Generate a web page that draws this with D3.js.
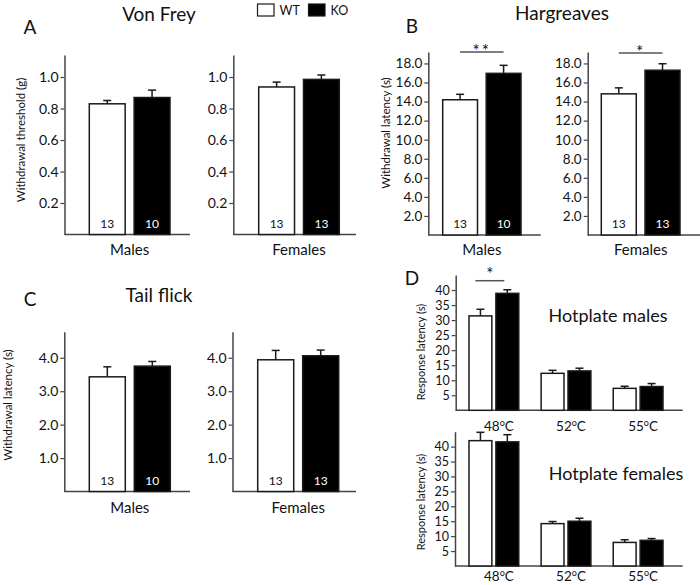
<!DOCTYPE html>
<html><head><meta charset="utf-8">
<script src="https://cdn.jsdelivr.net/npm/d3@7"></script>
<style>
body{margin:0;background:#fff}
text{font-family:Lato,"Open Sans",sans-serif;fill:#111}
</style>
</head><body>
<svg id="chart" width="700" height="585"></svg>
<script>
// ---- data ----
const sexes = ["Males", "Females"];
const genotypes = ["WT", "KO"];
const nWT = [13, 13];
const nKO = [10, 13];

const vonFreyWT = [0.83, 0.937];
const vonFreyWTErr = [0.021, 0.031];
const vonFreyKO = [0.87, 0.985];
const vonFreyKOErr = [0.047, 0.028];
const vonFreyTicks = [0.2, 0.4, 0.6, 0.8, 1.0];

const hargWT = [14.19, 14.81];
const hargWTErr = [0.57, 0.63];
const hargKO = [16.96, 17.29];
const hargKOErr = [0.84, 0.68];
const hargTicks = [2, 4, 6, 8, 10, 12, 14, 16, 18];
const hargSig = ["**", "*"];
const hargSigY = [19.2, 19.1];

const tailWT = [3.43, 3.94];
const tailWTErr = [0.30, 0.28];
const tailKO = [3.75, 4.06];
const tailKOErr = [0.14, 0.17];
const tailTicks = [1, 2, 3, 4];

const temps = ["48", "52", "55"];
const hotTicks = [5, 10, 15, 20, 25, 30, 35, 40];
const hotMalesWT = [31.4, 12.3, 7.3];
const hotMalesWTErr = [2.2, 1.0, 0.7];
const hotMalesKO = [38.9, 13.1, 7.9];
const hotMalesKOErr = [1.2, 0.9, 1.0];
const hotMalesSig = ["*", "", ""];
const hotMalesSigY = [43.1, 0, 0];
const hotFemWT = [42.0, 14.2, 7.9];
const hotFemWTErr = [2.8, 0.7, 0.9];
const hotFemKO = [41.6, 15.0, 8.6];
const hotFemKOErr = [2.4, 1.0, 0.6];

// ---- drawing ----
const svg = d3.select("#chart");
svg.append("rect").attr("width", 700).attr("height", 585).attr("fill", "#fff");
const INK = "#1a1a1a", AX = "#444";

function yAxis(g, y, ticks, fmt, fs) {
  const a = g.append("g")
    .call(d3.axisLeft(y).tickValues(ticks).tickFormat(fmt).tickSizeInner(4).tickSizeOuter(0).tickPadding(2));
  a.select(".domain").attr("stroke", AX).attr("stroke-width", 1.5);
  a.selectAll(".tick line").attr("stroke", AX).attr("stroke-width", 1.2);
  a.selectAll(".tick text").attr("font-family", "Lato").attr("font-size", fs).attr("fill", "#111");
  return a;
}

function errBar(g, cx, y, v, e) {
  g.append("line").attr("x1", cx).attr("x2", cx).attr("y1", y(v)).attr("y2", y(v + e))
    .attr("stroke", INK).attr("stroke-width", 1.5);
  g.append("line").attr("x1", cx - 4).attr("x2", cx + 4).attr("y1", y(v + e)).attr("y2", y(v + e))
    .attr("stroke", INK).attr("stroke-width", 1.5);
}

// Sex panel (two bars)
function sexPanel(o) {
  const g = svg.append("g").attr("transform", `translate(${o.ax},0)`);
  const y = d3.scaleLinear().domain([0, o.yMax]).range([o.base, o.top]);
  const x = d3.scaleBand().domain(genotypes).range([o.b0 - o.ax, o.b1 - o.ax]).paddingInner(0.2).paddingOuter(0);
  g.append("line").attr("x1", 0).attr("x2", o.xEnd - o.ax).attr("y1", y(0)).attr("y2", y(0))
    .attr("stroke", AX).attr("stroke-width", 1.5);
  const vals = [o.wt, o.ko], errs = [o.wtErr, o.koErr], ns = [o.nwt, o.nko];
  genotypes.forEach((k, j) => {
    errBar(g, x(k) + x.bandwidth() / 2, y, vals[j], errs[j]);
    g.append("rect").attr("x", x(k)).attr("y", y(vals[j])).attr("width", x.bandwidth())
      .attr("height", y(0) - y(vals[j]))
      .attr("fill", k === "WT" ? "#fff" : "#000").attr("stroke", INK).attr("stroke-width", 1.5);
    g.append("text").attr("x", x(k) + x.bandwidth() / 2).attr("y", y(0) - 7)
      .attr("text-anchor", "middle").attr("font-size", 12)
      .style("fill", k === "WT" ? "#111" : "#fff").text(ns[j]);
  });
  yAxis(g, y, o.ticks, o.fmt, o.fs);
  g.append("text").attr("x", (o.b0 + o.b1) / 2 - o.ax).attr("y", o.labY)
    .attr("text-anchor", "middle").attr("font-size", 15).text(o.label);
  if (o.sig) {
    const x1 = x("WT") + x.bandwidth() / 2, x2 = x("KO") + x.bandwidth() / 2;
    g.append("line").attr("x1", x1).attr("x2", x2).attr("y1", y(o.sigY)).attr("y2", y(o.sigY))
      .attr("stroke", "#555").attr("stroke-width", 1.5);
    g.append("text").attr("x", (x1 + x2) / 2).attr("y", y(o.sigY) + 5)
      .attr("text-anchor", "middle").attr("font-size", 17).attr("letter-spacing", 2).text(o.sig);
  }
}

function tempLabel(g, x, yPos, t) {
  const tx = g.append("text").attr("x", x).attr("y", yPos).attr("text-anchor", "middle").attr("font-size", 13.5);
  tx.append("tspan").text(t);
  tx.append("tspan").attr("font-size", 9).attr("dy", -5).text("o");
  tx.append("tspan").attr("dy", 5).text("C");
}

function hotPanel(o) {
  const g = svg.append("g").attr("transform", `translate(${o.ax},0)`);
  const y = d3.scaleLinear().domain([0, 45]).range([o.base, o.top]);
  const x0 = d3.scaleBand().domain(temps).range([o.g0 - o.ax, o.g1 - o.ax]).paddingInner(0.31).paddingOuter(0);
  const x1 = d3.scaleBand().domain(genotypes).range([0, x0.bandwidth()]).paddingInner(0.15).paddingOuter(0);
  g.append("line").attr("x1", 0).attr("x2", o.xEnd - o.ax).attr("y1", y(0)).attr("y2", y(0))
    .attr("stroke", AX).attr("stroke-width", 1.5);
  temps.forEach((t, i) => {
    const vals = [o.wt[i], o.ko[i]], errs = [o.wtErr[i], o.koErr[i]];
    genotypes.forEach((k, j) => {
      const bx = x0(t) + x1(k);
      errBar(g, bx + x1.bandwidth() / 2, y, vals[j], errs[j]);
      g.append("rect").attr("x", bx).attr("y", y(vals[j])).attr("width", x1.bandwidth())
        .attr("height", y(0) - y(vals[j]))
        .attr("fill", k === "WT" ? "#fff" : "#000").attr("stroke", INK).attr("stroke-width", 1.5);
    });
    tempLabel(g, x0(t) + x0.bandwidth() / 2 + 5, o.labY, t);
    if (o.sig && o.sig[i]) {
      const a = x0(t) + x1("WT") + x1.bandwidth() / 2, b = x0(t) + x1("KO") + x1.bandwidth() / 2;
      g.append("line").attr("x1", a - 5).attr("x2", b - 3).attr("y1", y(o.sigY[i])).attr("y2", y(o.sigY[i]))
        .attr("stroke", "#555").attr("stroke-width", 1.5);
      g.append("text").attr("x", (a + b) / 2 - 4).attr("y", y(o.sigY[i]) - 1)
        .attr("text-anchor", "middle").attr("font-size", 17).text(o.sig[i]);
    }
  });
  yAxis(g, y, hotTicks, d3.format("d"), 12.5);
  svg.append("text").attr("x", o.titleX).attr("y", o.titleY).attr("text-anchor", "middle")
    .attr("font-size", 18).attr("dominant-baseline", "central").text(o.title);
}

function vLabel(x, y, t, fs) {
  svg.append("text").attr("transform", `translate(${x},${y}) rotate(-90)`)
    .attr("text-anchor", "middle").attr("dominant-baseline", "central").attr("font-size", fs).text(t);
}
function txt(x, y, t, fs) {
  svg.append("text").attr("x", x).attr("y", y).attr("text-anchor", "middle")
    .attr("dominant-baseline", "central").attr("font-size", fs).text(t);
}

const f1 = d3.format(".1f");

// Panel A
[0, 1].forEach(i => sexPanel({
  ax: [64.5, 233.3][i], xEnd: [190, 356][i], b0: [89.3, 258.7][i], b1: [170, 339.3][i],
  base: 234.5, top: 55, yMax: 1.14, ticks: vonFreyTicks, fmt: f1, fs: 14,
  wt: vonFreyWT[i], wtErr: vonFreyWTErr[i], ko: vonFreyKO[i], koErr: vonFreyKOErr[i],
  nwt: nWT[i], nko: nKO[i], label: sexes[i], labY: 255
}));
// Panel B
[0, 1].forEach(i => sexPanel({
  ax: [428.3, 587.7][i], xEnd: [540.7, 700][i], b0: [442.7, 601.3][i], b1: [521, 680][i],
  base: 235, top: 52, yMax: 19.2, ticks: hargTicks, fmt: f1, fs: 13.5,
  wt: hargWT[i], wtErr: hargWTErr[i], ko: hargKO[i], koErr: hargKOErr[i],
  nwt: nWT[i], nko: nKO[i], label: sexes[i], labY: 255,
  sig: hargSig[i], sigY: hargSigY[i]
}));
// Panel C
[0, 1].forEach(i => sexPanel({
  ax: [64.3, 232.5][i], xEnd: [190, 356][i], b0: [89.3, 257.7][i], b1: [170.3, 338.7][i],
  base: 491.5, top: 331.7, yMax: 4.78, ticks: tailTicks, fmt: f1, fs: 14,
  wt: tailWT[i], wtErr: tailWTErr[i], ko: tailKO[i], koErr: tailKOErr[i],
  nwt: nWT[i], nko: nKO[i], label: sexes[i], labY: 513
}));
// Panel D
hotPanel({ ax: 455.7, xEnd: 682.7, g0: 469, g1: 663, base: 410.3, top: 275, labY: 431,
  wt: hotMalesWT, wtErr: hotMalesWTErr, ko: hotMalesKO, koErr: hotMalesKOErr,
  sig: hotMalesSig, sigY: hotMalesSigY, title: "Hotplate males", titleX: 608, titleY: 315 });
hotPanel({ ax: 455, xEnd: 682.7, g0: 469, g1: 663, base: 566, top: 431.7, labY: 581,
  wt: hotFemWT, wtErr: hotFemWTErr, ko: hotFemKO, koErr: hotFemKOErr,
  title: "Hotplate females", titleX: 616, titleY: 473 });

// Axis titles
vLabel(20.7, 140, "Withdrawal threshold (g)", 11.5);
vLabel(385, 133, "Withdrawal latency (s)", 11.5);
vLabel(7.5, 405, "Withdrawal latency (s)", 11.5);
vLabel(420, 352, "Response latency (s)", 11);
vLabel(420, 502, "Response latency (s)", 11);

// Titles and letters
txt(159, 13, "Von Frey", 19);
txt(562, 12, "Hargreaves", 19);
txt(159, 294, "Tail flick", 19);
txt(30, 26, "A", 19);
txt(412, 25, "B", 19);
txt(30, 298, "C", 19);
txt(412, 277, "D", 19);

// Legend
const leg = svg.append("g");
genotypes.forEach((k, j) => {
  const lx = [257.5, 308.5][j];
  leg.append("rect").attr("x", lx).attr("y", 4).attr("width", 16.5).attr("height", 12)
    .attr("fill", k === "WT" ? "#fff" : "#000").attr("stroke", INK).attr("stroke-width", 1.2);
  leg.append("text").attr("x", lx + 22).attr("y", 10.5).attr("dominant-baseline", "central")
    .attr("font-size", 12.5).text(k);
});
</script>
</body></html>
